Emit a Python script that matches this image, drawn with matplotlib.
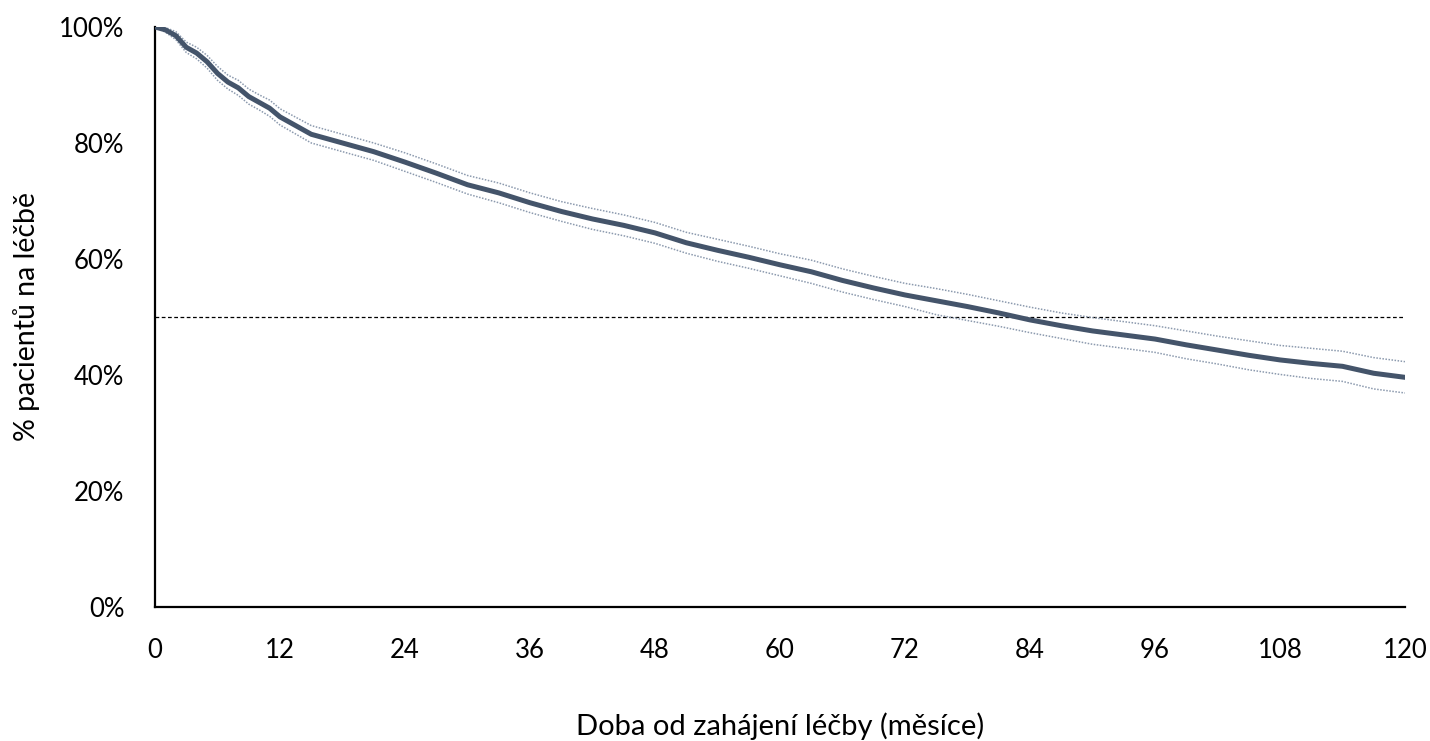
import matplotlib.pyplot as plt
from matplotlib.ticker import FuncFormatter

# Kaplan-Meier odhad (% pacientů na léčbě) + 95% CI
months = [0, 1, 2, 3, 4, 5, 6, 7, 8, 9, 10, 11, 12,
          15, 18, 21, 24, 27, 30, 33, 36, 39, 42, 45, 48, 51, 54, 57, 60,
          63, 66, 69, 72, 75, 78, 81, 84, 87, 90, 93, 96, 99, 102, 105,
          108, 111, 114, 117, 120]
surv = [100, 99.5, 98.5, 96.5, 95.5, 94, 92, 90.5, 89.5, 88, 87, 86, 84.5,
        81.5, 80, 78.5, 76.7, 74.8, 72.8, 71.4, 69.7, 68.2, 66.9, 65.8, 64.5,
        62.8, 61.5, 60.3, 59, 57.8, 56.3, 55, 53.8, 52.8, 51.8, 50.7, 49.5,
        48.5, 47.6, 46.9, 46.2, 45.2, 44.3, 43.4, 42.6, 42.0, 41.5, 40.3, 39.6]
upper = [100, 99.9, 99.2, 97.4, 96.5, 95.1, 93.2, 91.7, 90.8, 89.3, 88.3, 87.4, 85.9,
         83.0, 81.5, 80.0, 78.3, 76.4, 74.4, 73.1, 71.4, 69.9, 68.7, 67.6, 66.3,
         64.6, 63.4, 62.2, 60.9, 59.8, 58.3, 57.0, 55.8, 54.9, 53.9, 52.8, 51.7,
         50.7, 49.9, 49.2, 48.5, 47.6, 46.7, 45.9, 45.1, 44.6, 44.1, 43.0, 42.3]
lower = [100, 99.1, 97.8, 95.6, 94.5, 92.9, 90.8, 89.3, 88.2, 86.7, 85.7, 84.6, 83.1,
         80.0, 78.5, 77.0, 75.1, 73.2, 71.2, 69.7, 68.0, 66.5, 65.1, 64.0, 62.7,
         61.0, 59.6, 58.4, 57.1, 55.8, 54.3, 53.0, 51.8, 50.4, 49.4, 48.4, 47.3,
         46.3, 45.3, 44.6, 43.9, 42.8, 41.9, 40.9, 40.1, 39.4, 38.9, 37.6, 36.9]
median_level = 50
xticks = list(range(0, 121, 12))
yticks = [0, 20, 40, 60, 80, 100]

plt.rcParams['font.family'] = ['Lato', 'DejaVu Sans']

fig = plt.figure(figsize=(14.3, 7.41), dpi=100)
ax = fig.add_axes([0.1084, 0.1808, 0.8741, 0.7828])

ax.axhline(median_level, color='black', linestyle=(0, (3, 2)), linewidth=0.9, zorder=1)
ax.plot(months, upper, color='#8C9AAE', linestyle=(0, (1, 1)), linewidth=1.1, zorder=2)
ax.plot(months, lower, color='#8C9AAE', linestyle=(0, (1, 1)), linewidth=1.1, zorder=2)
ax.plot(months, surv, color='#44546A', linewidth=3.6, zorder=3)

ax.set_xlim(0, 120)
ax.set_ylim(0, 100)
ax.set_xticks(xticks)
ax.set_yticks(yticks)
ax.yaxis.set_major_formatter(FuncFormatter(lambda v, p: f"{v:.0f}%"))
ax.tick_params(length=0, labelsize=18.5)
ax.tick_params(axis='x', pad=22)
ax.tick_params(axis='y', pad=22)

for s in ['top', 'right']:
    ax.spines[s].set_visible(False)
for s in ['left', 'bottom']:
    ax.spines[s].set_linewidth(1.6)
    ax.spines[s].set_color('black')

ax.set_xlabel('Doba od zahájení léčby (měsíce)', fontsize=21, labelpad=36)
ax.set_ylabel('% pacientů na léčbě', fontsize=20.5, labelpad=14)

fig.savefig('out.png', dpi=100)
